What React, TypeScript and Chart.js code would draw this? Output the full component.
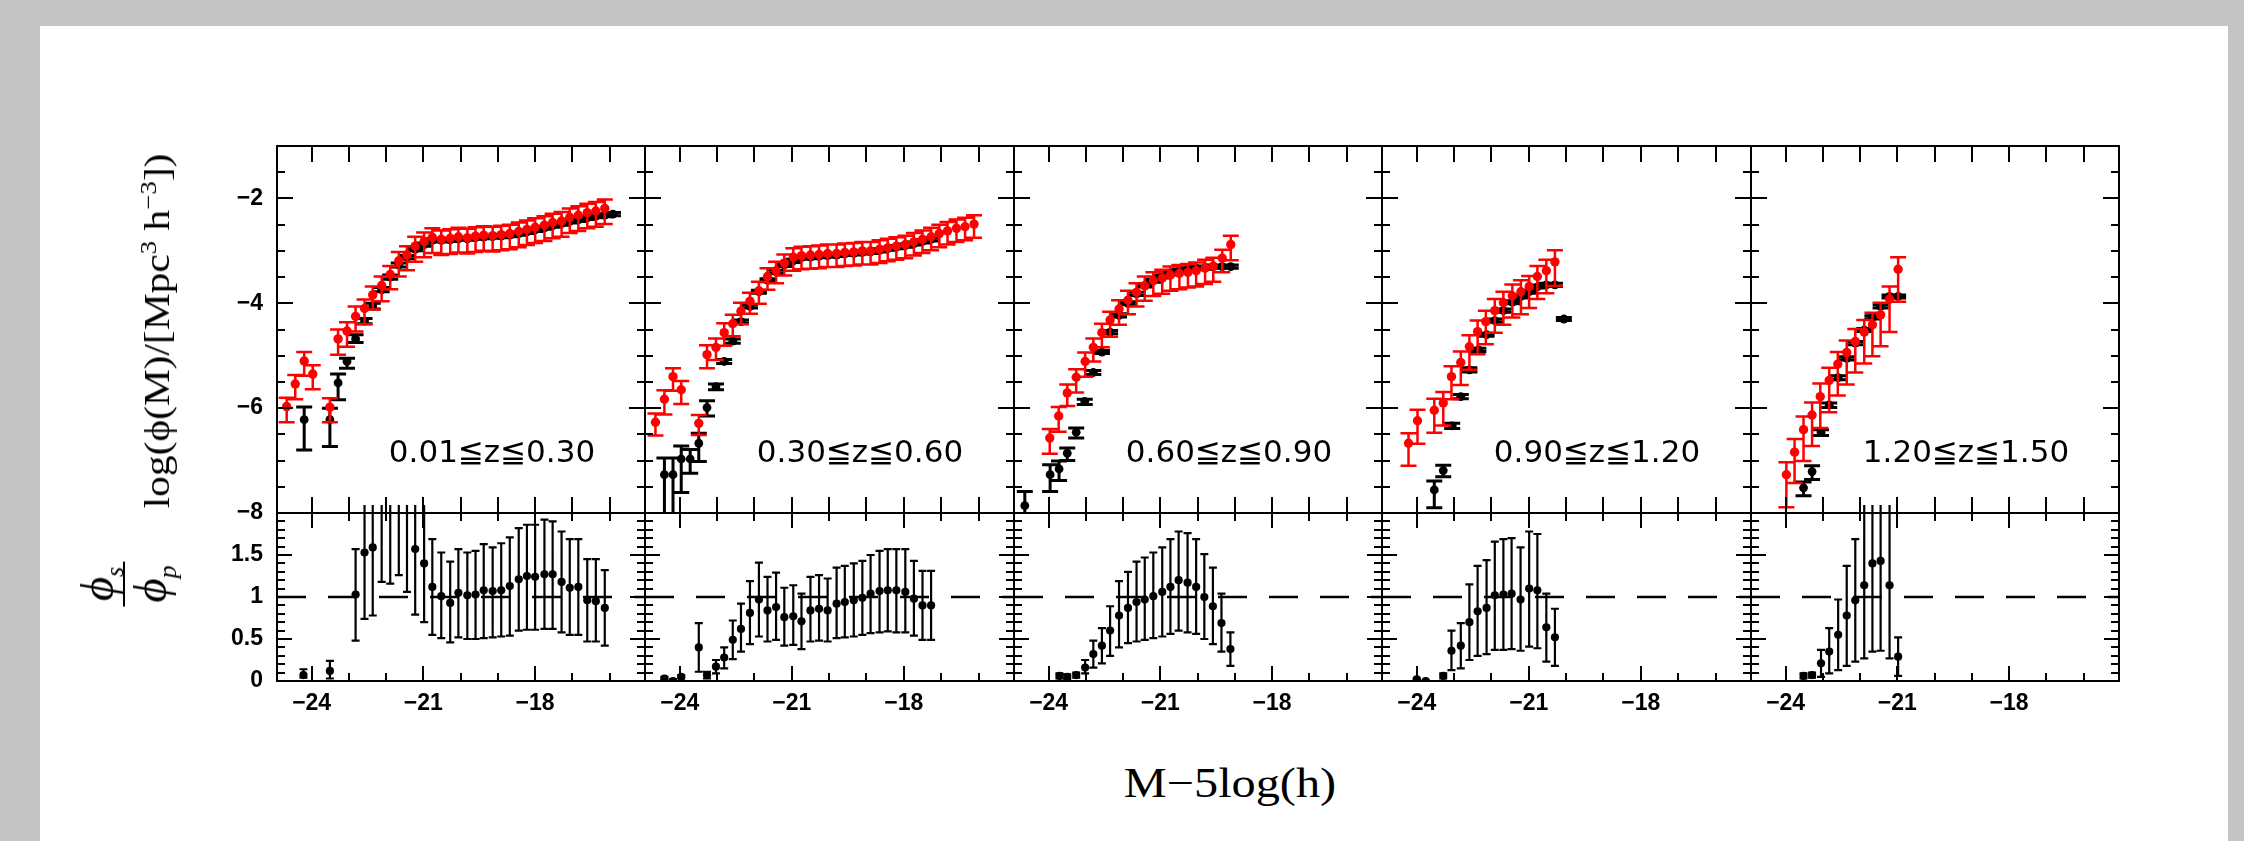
import { useEffect, useRef } from 'react';
import { Chart, registerables } from 'chart.js';

Chart.register(...registerables);

// ---------------- axis ranges & tick values ----------------
const X_MIN = -24.93;
const X_MAX = -15.05;
const YTOP_MIN = -8;
const YTOP_MAX = -1;
const YBOT_MIN = 0;
const YBOT_MAX = 2;
const X_TICK_LABELS = [-24, -21, -18];
const X_TICKS_ALL = [-24, -23, -22, -21, -20, -19, -18, -17, -16];
const X_TICKS_MINOR = [-23, -22, -20, -19, -17, -16];
const YTOP_TICK_LABELS = [-8, -6, -4, -2];
const YTOP_MINOR = [-7.5, -7, -6.5, -5.5, -5, -4.5, -3.5, -3, -2.5, -1.5];
const YBOT_TICK_LABELS = [0, 0.5, 1, 1.5];
const YBOT_MAJOR = [0.5, 1, 1.5];
const YBOT_MINOR = [0.1, 0.2, 0.3, 0.4, 0.6, 0.7, 0.8, 0.9, 1.1, 1.2, 1.3, 1.4, 1.6, 1.7, 1.8, 1.9];
const RATIO_REF = 1;
const Z_LABELS = ['0.01≦z≦0.30', '0.30≦z≦0.60', '0.60≦z≦0.90', '0.90≦z≦1.20', '1.20≦z≦1.50'];

// ---------------- panel 1 ----------------
const RED1_X = [-24.67,-24.44,-24.20,-23.97,-23.51,-23.29,-23.05,-22.82,-22.58,-22.36,-22.12,-21.89,-21.66,-21.44,-21.22,-20.98,-20.76,-20.52,-20.28,-20.06,-19.82,-19.60,-19.38,-19.14,-18.91,-18.68,-18.44,-18.22,-18.00,-17.75,-17.53,-17.29,-17.07,-16.84,-16.60,-16.37,-16.13];
const RED1_Y = [-5.97,-5.54,-5.10,-5.35,-5.98,-4.68,-4.53,-4.25,-4.10,-3.84,-3.66,-3.45,-3.19,-3.08,-2.91,-2.82,-2.74,-2.78,-2.76,-2.73,-2.75,-2.72,-2.70,-2.71,-2.69,-2.67,-2.63,-2.59,-2.55,-2.51,-2.46,-2.43,-2.36,-2.32,-2.27,-2.24,-2.19];
const RED1_UP = [0.17,0.17,0.17,0.17,0.17,0.18,0.17,0.19,0.17,0.16,0.17,0.16,0.17,0.17,0.18,0.17,0.17,0.17,0.17,0.17,0.17,0.17,0.17,0.17,0.17,0.17,0.17,0.17,0.17,0.17,0.17,0.17,0.17,0.17,0.17,0.17,0.17];
const RED1_DN = [0.30,0.29,0.28,0.29,0.29,0.30,0.30,0.29,0.30,0.28,0.30,0.28,0.30,0.29,0.30,0.30,0.30,0.30,0.30,0.30,0.30,0.30,0.30,0.30,0.30,0.30,0.30,0.30,0.30,0.30,0.30,0.30,0.30,0.30,0.30,0.30,0.30];
const BLK1_X = [-24.20,-23.51,-23.29,-23.05,-22.82,-22.58,-22.36,-22.12,-21.89,-21.66,-21.44,-21.22,-20.98,-20.76,-20.52,-20.28,-20.06,-19.82,-19.60,-19.38,-19.14,-18.91,-18.68,-18.44,-18.22,-18.00,-17.75,-17.53,-17.29,-17.07,-16.84,-16.60,-16.37,-16.13,-15.91];
const BLK1_Y = [-6.22,-6.22,-5.52,-5.11,-4.68,-4.34,-4.05,-3.74,-3.50,-3.27,-3.12,-2.97,-2.88,-2.80,-2.80,-2.79,-2.77,-2.77,-2.75,-2.74,-2.73,-2.72,-2.70,-2.67,-2.64,-2.60,-2.56,-2.52,-2.48,-2.44,-2.41,-2.37,-2.34,-2.32,-2.30];
const BLK1_UP = [0.24,0.22,0.17,0.06,0.08,0.05,0.05,0.04,0.04,0.04,0.03,0.03,0.03,0.03,0.03,0.03,0.03,0.03,0.03,0.03,0.03,0.03,0.03,0.03,0.03,0.03,0.03,0.03,0.03,0.03,0.03,0.03,0.03,0.03,0.03];
const BLK1_DN = [0.58,0.51,0.32,0.13,0.07,0.05,0.06,0.04,0.04,0.04,0.03,0.03,0.03,0.03,0.03,0.03,0.03,0.03,0.03,0.03,0.03,0.03,0.03,0.03,0.03,0.03,0.03,0.03,0.03,0.03,0.03,0.03,0.03,0.03,0.03];
const RAT1_X = [-24.22,-23.51,-22.82,-22.58,-22.36,-22.12,-21.89,-21.66,-21.44,-21.22,-20.98,-20.76,-20.52,-20.28,-20.06,-19.82,-19.60,-19.38,-19.14,-18.91,-18.68,-18.44,-18.22,-18.00,-17.75,-17.53,-17.29,-17.07,-16.84,-16.60,-16.37,-16.13];
const RAT1_Y = [0.07,0.12,1.03,1.53,1.59,2.30,2.30,2.30,2.30,1.57,1.40,1.12,1.01,0.93,1.05,1.02,1.03,1.08,1.07,1.08,1.13,1.21,1.25,1.24,1.27,1.27,1.18,1.11,1.12,0.96,0.95,0.87];
const RAT1_UP = [0.07,0.12,0.54,1.00,1.00,1.00,1.00,1.00,1.00,1.00,1.00,0.57,0.52,0.49,0.52,0.51,0.52,0.55,0.52,0.56,0.58,0.61,0.61,0.62,0.65,0.63,0.60,0.58,0.57,0.49,0.50,0.45];
const RAT1_DN = [0.03,0.09,0.55,0.79,0.81,1.12,1.14,1.04,1.24,0.78,0.70,0.57,0.50,0.47,0.53,0.52,0.53,0.57,0.55,0.55,0.59,0.61,0.64,0.63,0.65,0.65,0.60,0.56,0.57,0.49,0.48,0.45];

// ---------------- panel 2 ----------------
const RED2_X = [-24.65,-24.41,-24.18,-23.96,-23.49,-23.27,-23.03,-22.81,-22.58,-22.36,-22.12,-21.88,-21.65,-21.42,-21.20,-20.96,-20.74,-20.50,-20.27,-20.04,-19.80,-19.58,-19.34,-19.11,-18.89,-18.65,-18.43,-18.20,-17.96,-17.73,-17.50,-17.27,-17.05,-16.83,-16.59,-16.36,-16.12];
const RED2_Y = [-6.27,-5.83,-5.40,-5.65,-6.29,-4.98,-4.84,-4.56,-4.39,-4.15,-3.96,-3.76,-3.49,-3.38,-3.23,-3.12,-3.09,-3.08,-3.07,-3.05,-3.05,-3.03,-3.02,-3.00,-3.00,-2.97,-2.94,-2.91,-2.88,-2.83,-2.78,-2.73,-2.67,-2.62,-2.57,-2.54,-2.49];
const RED2_UP = [0.17,0.17,0.16,0.17,0.16,0.18,0.17,0.18,0.17,0.16,0.16,0.17,0.16,0.17,0.16,0.17,0.17,0.17,0.17,0.17,0.17,0.17,0.17,0.17,0.17,0.17,0.17,0.17,0.17,0.17,0.17,0.17,0.17,0.17,0.17,0.17,0.17];
const RED2_DN = [0.25,0.29,0.27,0.27,0.22,0.26,0.24,0.25,0.24,0.25,0.24,0.25,0.25,0.24,0.24,0.26,0.26,0.26,0.26,0.26,0.26,0.26,0.26,0.26,0.26,0.26,0.26,0.26,0.26,0.26,0.26,0.26,0.26,0.26,0.26,0.26,0.26];
const BLK2_X = [-24.41,-24.18,-23.96,-23.72,-23.49,-23.27,-23.03,-22.81,-22.58,-22.36,-22.12,-21.88,-21.65,-21.42,-21.20,-20.96,-20.74,-20.50,-20.27,-20.04,-19.80,-19.58,-19.34,-19.11,-18.89,-18.65,-18.43,-18.20,-17.96,-17.73,-17.50,-17.27];
const BLK2_Y = [-7.27,-7.27,-6.97,-6.97,-6.67,-5.99,-5.59,-5.11,-4.72,-4.35,-4.06,-3.78,-3.56,-3.40,-3.27,-3.19,-3.13,-3.12,-3.10,-3.09,-3.08,-3.06,-3.05,-3.03,-3.02,-2.99,-2.96,-2.93,-2.90,-2.86,-2.82,-2.78];
const BLK2_UP = [0.32,0.32,0.25,0.18,0.19,0.13,0.05,0.04,0.04,0.03,0.03,0.03,0.03,0.03,0.03,0.03,0.03,0.03,0.03,0.03,0.03,0.03,0.03,0.03,0.03,0.03,0.03,0.03,0.03,0.03,0.03,0.03];
const BLK2_DN = [1.00,1.00,0.64,0.27,0.35,0.16,0.06,0.04,0.04,0.03,0.03,0.03,0.03,0.03,0.03,0.03,0.03,0.03,0.03,0.03,0.03,0.03,0.03,0.03,0.03,0.03,0.03,0.03,0.03,0.03,0.03,0.03];
const RAT2_X = [-24.41,-24.18,-23.96,-23.49,-23.27,-23.03,-22.81,-22.58,-22.36,-22.12,-21.88,-21.65,-21.42,-21.20,-20.96,-20.74,-20.50,-20.27,-20.04,-19.80,-19.58,-19.34,-19.11,-18.89,-18.65,-18.43,-18.20,-17.96,-17.73,-17.50,-17.27];
const RAT2_Y = [0.03,0.00,0.05,0.40,0.07,0.17,0.28,0.49,0.62,0.81,0.97,0.84,0.88,0.76,0.77,0.71,0.84,0.86,0.84,0.92,0.94,0.96,0.99,1.04,1.07,1.08,1.08,1.06,0.98,0.90,0.90];
const RAT2_UP = [0.02,0.02,0.02,0.29,0.04,0.08,0.12,0.23,0.30,0.38,0.44,0.40,0.41,0.35,0.37,0.33,0.40,0.40,0.38,0.43,0.43,0.44,0.44,0.46,0.48,0.49,0.49,0.51,0.45,0.41,0.41];
const RAT2_DN = [0.02,0.00,0.02,0.29,0.04,0.08,0.13,0.23,0.27,0.37,0.44,0.37,0.39,0.34,0.34,0.33,0.37,0.38,0.37,0.41,0.42,0.43,0.44,0.47,0.49,0.49,0.50,0.48,0.44,0.41,0.41];

// ---------------- panel 3 ----------------
const RED3_X = [-23.97,-23.73,-23.50,-23.26,-23.02,-22.80,-22.57,-22.35,-22.11,-21.87,-21.64,-21.42,-21.19,-20.95,-20.73,-20.49,-20.26,-20.04,-19.80,-19.58,-19.34,-19.11];
const RED3_Y = [-6.57,-6.15,-5.71,-5.41,-5.11,-4.84,-4.56,-4.32,-4.11,-3.94,-3.79,-3.67,-3.57,-3.52,-3.46,-3.43,-3.41,-3.38,-3.33,-3.29,-3.14,-2.88];
const RED3_UP = [0.17,0.17,0.16,0.15,0.17,0.17,0.17,0.16,0.17,0.18,0.17,0.18,0.16,0.16,0.16,0.16,0.16,0.16,0.16,0.16,0.16,0.17];
const RED3_DN = [0.30,0.30,0.25,0.29,0.29,0.27,0.28,0.32,0.30,0.27,0.27,0.28,0.29,0.30,0.30,0.30,0.29,0.30,0.30,0.30,0.27,0.30];
const BLK3_X = [-24.64,-23.96,-23.72,-23.50,-23.26,-23.03,-22.80,-22.57,-22.35,-22.11,-21.87,-21.64,-21.42,-21.19,-20.95,-20.73,-20.49,-20.26,-20.04,-19.80,-19.58,-19.34,-19.11];
const BLK3_Y = [-7.86,-7.27,-7.16,-6.86,-6.46,-5.87,-5.32,-4.93,-4.55,-4.23,-4.00,-3.82,-3.66,-3.57,-3.49,-3.43,-3.38,-3.35,-3.33,-3.32,-3.30,-3.30,-3.30];
const BLK3_UP = [0.27,0.19,0.15,0.10,0.08,0.04,0.04,0.03,0.03,0.03,0.03,0.03,0.03,0.03,0.03,0.03,0.03,0.03,0.03,0.03,0.03,0.03,0.03];
const BLK3_DN = [0.60,0.32,0.22,0.14,0.11,0.06,0.04,0.03,0.03,0.03,0.03,0.03,0.03,0.03,0.03,0.03,0.03,0.03,0.03,0.03,0.03,0.03,0.03];
const RAT3_X = [-23.71,-23.50,-23.26,-23.02,-22.80,-22.57,-22.35,-22.11,-21.87,-21.64,-21.42,-21.19,-20.95,-20.73,-20.51,-20.27,-20.04,-19.82,-19.59,-19.36,-19.12];
const RAT3_Y = [0.06,0.05,0.07,0.16,0.32,0.42,0.60,0.78,0.87,0.94,0.97,1.01,1.06,1.12,1.20,1.17,1.12,1.00,0.89,0.69,0.38];
const RAT3_UP = [0.03,0.03,0.03,0.09,0.16,0.21,0.29,0.41,0.43,0.48,0.50,0.52,0.53,0.57,0.58,0.59,0.57,0.51,0.46,0.35,0.20];
const RAT3_DN = [0.03,0.03,0.03,0.07,0.16,0.21,0.30,0.38,0.42,0.47,0.48,0.50,0.53,0.56,0.60,0.59,0.56,0.50,0.45,0.34,0.20];

// ---------------- panel 4 ----------------
const RED4_X = [-24.22,-23.98,-23.53,-23.29,-23.07,-22.82,-22.59,-22.37,-22.15,-21.91,-21.68,-21.44,-21.21,-20.99,-20.77,-20.53,-20.30];
const RED4_Y = [-6.67,-6.24,-6.04,-5.90,-5.40,-5.13,-4.83,-4.54,-4.35,-4.14,-3.99,-3.86,-3.78,-3.68,-3.49,-3.38,-3.21];
const RED4_UP = [0.19,0.21,0.22,0.21,0.20,0.21,0.22,0.21,0.21,0.22,0.21,0.22,0.22,0.20,0.20,0.21,0.22];
const RED4_DN = [0.43,0.44,0.43,0.43,0.43,0.43,0.44,0.43,0.43,0.42,0.42,0.41,0.43,0.41,0.43,0.43,0.46];
const BLK4_X = [-23.53,-23.29,-23.05,-22.82,-22.59,-22.35,-22.13,-21.91,-21.68,-21.44,-21.21,-20.99,-20.75,-20.53,-20.30,-20.06];
const BLK4_Y = [-7.56,-7.19,-6.34,-5.78,-5.27,-4.89,-4.60,-4.33,-4.14,-3.98,-3.87,-3.78,-3.68,-3.65,-3.65,-4.30];
const BLK4_UP = [0.17,0.10,0.05,0.04,0.04,0.03,0.03,0.03,0.03,0.03,0.03,0.03,0.03,0.03,0.03,0.03];
const BLK4_DN = [0.34,0.12,0.05,0.04,0.04,0.03,0.03,0.03,0.03,0.03,0.03,0.03,0.03,0.03,0.03,0.03];
const RAT4_X = [-24.00,-23.76,-23.29,-23.07,-22.82,-22.59,-22.37,-22.13,-21.91,-21.68,-21.46,-21.22,-20.99,-20.77,-20.53,-20.30];
const RAT4_Y = [0.02,0.00,0.06,0.36,0.42,0.70,0.83,0.87,1.02,1.03,1.04,0.97,1.10,1.08,0.64,0.52];
const RAT4_UP = [0.01,0.01,0.03,0.24,0.27,0.45,0.54,0.57,0.64,0.66,0.66,0.62,0.68,0.67,0.40,0.34];
const RAT4_DN = [0.02,0.00,0.03,0.23,0.27,0.45,0.53,0.55,0.65,0.66,0.66,0.61,0.69,0.69,0.41,0.34];

// ---------------- panel 5 ----------------
const RED5_X = [-23.98,-23.76,-23.52,-23.29,-23.07,-22.83,-22.60,-22.36,-22.13,-21.89,-21.67,-21.45,-21.21,-20.98];
const RED5_Y = [-7.27,-6.84,-6.41,-6.13,-5.78,-5.47,-5.16,-4.94,-4.73,-4.55,-4.41,-4.22,-3.92,-3.35];
const RED5_UP = [0.24,0.25,0.25,0.24,0.25,0.24,0.23,0.23,0.24,0.23,0.23,0.23,0.24,0.23];
const RED5_DN = [0.62,0.59,0.60,0.59,0.60,0.61,0.60,0.61,0.59,0.60,0.60,0.60,0.63,0.62];
const BLK5_X = [-23.52,-23.29,-23.05,-22.83,-22.59,-22.36,-22.13,-21.89,-21.67,-21.45,-21.21,-20.98];
const BLK5_Y = [-7.52,-7.21,-6.46,-5.94,-5.42,-5.05,-4.76,-4.51,-4.27,-4.06,-3.87,-3.87];
const BLK5_UP = [0.11,0.11,0.05,0.04,0.04,0.03,0.03,0.03,0.03,0.03,0.03,0.03];
const BLK5_DN = [0.15,0.15,0.06,0.05,0.04,0.03,0.03,0.03,0.03,0.03,0.03,0.03];
const RAT5_X = [-23.52,-23.29,-23.05,-22.83,-22.59,-22.36,-22.13,-21.89,-21.67,-21.45,-21.21,-20.98];
const RAT5_Y = [0.06,0.07,0.21,0.35,0.55,0.78,0.96,1.14,1.40,1.43,1.14,0.29];
const RAT5_UP = [0.03,0.03,0.16,0.28,0.42,0.59,0.73,1.20,1.20,1.20,1.20,0.23];
const RAT5_DN = [0.03,0.03,0.16,0.26,0.42,0.60,0.73,0.87,1.05,1.07,0.87,0.23];

type S = { x: number[]; y: number[]; up: number[]; dn: number[] };
const PANELS: { red: S; blk: S; rat: S }[] = [
  { red: { x: RED1_X, y: RED1_Y, up: RED1_UP, dn: RED1_DN }, blk: { x: BLK1_X, y: BLK1_Y, up: BLK1_UP, dn: BLK1_DN }, rat: { x: RAT1_X, y: RAT1_Y, up: RAT1_UP, dn: RAT1_DN } },
  { red: { x: RED2_X, y: RED2_Y, up: RED2_UP, dn: RED2_DN }, blk: { x: BLK2_X, y: BLK2_Y, up: BLK2_UP, dn: BLK2_DN }, rat: { x: RAT2_X, y: RAT2_Y, up: RAT2_UP, dn: RAT2_DN } },
  { red: { x: RED3_X, y: RED3_Y, up: RED3_UP, dn: RED3_DN }, blk: { x: BLK3_X, y: BLK3_Y, up: BLK3_UP, dn: BLK3_DN }, rat: { x: RAT3_X, y: RAT3_Y, up: RAT3_UP, dn: RAT3_DN } },
  { red: { x: RED4_X, y: RED4_Y, up: RED4_UP, dn: RED4_DN }, blk: { x: BLK4_X, y: BLK4_Y, up: BLK4_UP, dn: BLK4_DN }, rat: { x: RAT4_X, y: RAT4_Y, up: RAT4_UP, dn: RAT4_DN } },
  { red: { x: RED5_X, y: RED5_Y, up: RED5_UP, dn: RED5_DN }, blk: { x: BLK5_X, y: BLK5_Y, up: BLK5_UP, dn: BLK5_DN }, rat: { x: RAT5_X, y: RAT5_Y, up: RAT5_UP, dn: RAT5_DN } },
];

// ---------------- layout ----------------
const PANEL_X = [277, 645, 1014, 1382, 1751, 2119];
const TOP_Y = 146;
const TOP_H = 367;
const BOT_Y = 513;
const BOT_H = 168;

const fmt = (v: number) => String(v).replace('-', '\u2212');
const TICK_FONT = { family: 'Liberation Sans', size: 23, weight: 'bold' as const };

type ErrSpec = { s: S; color: string; width: number; cap: number; clipTop: number } | null;

function errorBarPlugin(specs: ErrSpec[]) {
  return {
    id: 'errorBars',
    beforeDatasetDraw(chart: any, args: any) {
      const sp = specs[args.index];
      if (!sp) return;
      const xs = chart.scales.x, ys = chart.scales.y, a = chart.chartArea, ctx = chart.ctx;
      ctx.save();
      ctx.beginPath();
      ctx.rect(a.left, a.top - sp.clipTop, a.right - a.left, a.bottom - a.top + sp.clipTop);
      ctx.clip();
      ctx.strokeStyle = sp.color;
      ctx.lineWidth = sp.width;
      ctx.beginPath();
      sp.s.x.forEach((xv, i) => {
        const px = xs.getPixelForValue(xv);
        const hi = ys.getPixelForValue(sp.s.y[i] + sp.s.up[i]);
        const lo = ys.getPixelForValue(sp.s.y[i] - sp.s.dn[i]);
        ctx.moveTo(px, hi); ctx.lineTo(px, lo);
        ctx.moveTo(px - sp.cap, hi); ctx.lineTo(px + sp.cap, hi);
        ctx.moveTo(px - sp.cap, lo); ctx.lineTo(px + sp.cap, lo);
      });
      ctx.stroke();
      ctx.restore();
    },
  };
}

type FrameCfg = { xMaj: number[]; xMin: number[]; yMaj: number[]; yMin: number[]; maj: number; min: number };
function framePlugin(cfg: FrameCfg) {
  return {
    id: 'frameTicks',
    afterDraw(chart: any) {
      const { ctx, chartArea: a } = chart;
      const xs = chart.scales.x, ys = chart.scales.y;
      ctx.save();
      ctx.strokeStyle = '#000';
      ctx.lineWidth = 2;
      ctx.beginPath();
      const tx = (vals: number[], len: number) => vals.forEach((v) => {
        const p = Math.round(xs.getPixelForValue(v));
        ctx.moveTo(p, a.bottom); ctx.lineTo(p, a.bottom - len);
        ctx.moveTo(p, a.top); ctx.lineTo(p, a.top + len);
      });
      const ty = (vals: number[], len: number) => vals.forEach((v) => {
        const p = Math.round(ys.getPixelForValue(v));
        ctx.moveTo(a.left, p); ctx.lineTo(a.left + len, p);
        ctx.moveTo(a.right, p); ctx.lineTo(a.right - len, p);
      });
      tx(cfg.xMaj, cfg.maj); tx(cfg.xMin, cfg.min);
      ty(cfg.yMaj, cfg.maj); ty(cfg.yMin, cfg.min);
      ctx.stroke();
      ctx.strokeRect(a.left, a.top, a.right - a.left, a.bottom - a.top);
      ctx.restore();
    },
  };
}

type PanelProps = { idx: number; bottom: boolean };

function Panel({ idx, bottom }: PanelProps) {
  const ref = useRef<HTMLCanvasElement>(null);
  const left = PANEL_X[idx];
  const width = PANEL_X[idx + 1] - left;
  const top = bottom ? BOT_Y : TOP_Y;
  const height = bottom ? BOT_H : TOP_H;
  const yLab = idx === 0;
  const xLab = bottom;
  const padL = yLab ? 120 : 6;
  const padR = 6;
  const padT = 16;
  const padB = bottom ? 50 : 16;
  const cw = padL + width + padR;
  const chh = padT + height + padB;

  useEffect(() => {
    const p = PANELS[idx];
    const pts = (s: S) => s.x.map((x, i) => ({ x, y: s.y[i] }));
    let datasets: any[];
    let specs: ErrSpec[];
    if (!bottom) {
      datasets = [
        { data: pts(p.red), pointRadius: 4.7, pointBackgroundColor: '#ff0000', pointBorderWidth: 0, pointHoverRadius: 4.7 },
        { data: pts(p.blk), pointRadius: 4.4, pointBackgroundColor: '#000000', pointBorderWidth: 0, pointHoverRadius: 4.4 },
      ];
      specs = [
        { s: p.red, color: '#ff0000', width: 2.5, cap: 8, clipTop: 0 },
        { s: p.blk, color: '#000000', width: 3, cap: 8, clipTop: 0 },
      ];
    } else {
      datasets = [
        { data: pts(p.rat), pointRadius: 4.1, pointBackgroundColor: '#000000', pointBorderWidth: 0, pointHoverRadius: 4.1 },
        { data: [{ x: X_MIN, y: RATIO_REF }, { x: X_MAX, y: RATIO_REF }], showLine: true, borderColor: '#000000', borderWidth: 2.5, borderDash: [29, 22], pointRadius: 0, fill: false },
      ];
      specs = [{ s: p.rat, color: '#000000', width: 2.2, cap: 4, clipTop: 8 }, null];
    }
    const frame = bottom
      ? framePlugin({ xMaj: X_TICK_LABELS, xMin: X_TICKS_MINOR, yMaj: YBOT_MAJOR, yMin: YBOT_MINOR, maj: 15, min: 8 })
      : framePlugin({ xMaj: X_TICKS_ALL, xMin: [], yMaj: YTOP_TICK_LABELS, yMin: YTOP_MINOR, maj: 16, min: 8 });

    const chart = new Chart(ref.current as HTMLCanvasElement, {
      type: 'scatter',
      data: { datasets },
      options: {
        animation: false,
        responsive: false,
        maintainAspectRatio: false,
        events: [],
        layout: { padding: { left: yLab ? 0 : padL, right: padR, top: padT, bottom: xLab ? 0 : padB } },
        plugins: { legend: { display: false }, tooltip: { enabled: false } },
        scales: {
          x: {
            type: 'linear', min: X_MIN, max: X_MAX, display: xLab,
            grid: { display: false, drawTicks: false }, border: { display: false },
            ticks: { font: TICK_FONT, color: '#000', padding: 9, autoSkip: false, maxRotation: 0, callback: (v: any) => fmt(Number(v)) },
            afterBuildTicks: (s: any) => { s.ticks = X_TICK_LABELS.map((v) => ({ value: v })); },
            afterFit: (s: any) => {
              s.paddingLeft = 0; s.paddingRight = 0; s.paddingTop = 0; s.paddingBottom = 0;
              if (xLab) s.height = padB;
            },
          },
          y: {
            type: 'linear', min: bottom ? YBOT_MIN : YTOP_MIN, max: bottom ? YBOT_MAX : YTOP_MAX, display: yLab,
            grid: { display: false, drawTicks: false }, border: { display: false },
            ticks: { font: TICK_FONT, color: '#000', padding: 14, autoSkip: false, callback: (v: any) => fmt(Number(v)) },
            afterBuildTicks: (s: any) => { s.ticks = (bottom ? YBOT_TICK_LABELS : YTOP_TICK_LABELS).map((v) => ({ value: v })); },
            afterFit: (s: any) => {
              s.paddingLeft = 0; s.paddingRight = 0; s.paddingTop = 0; s.paddingBottom = 0;
              if (yLab) s.width = padL;
            },
          },
        },
      } as any,
      plugins: [errorBarPlugin(specs), frame],
    });
    return () => chart.destroy();
  }, [idx, bottom]);

  return (
    <canvas
      ref={ref}
      width={cw}
      height={chh}
      style={{ position: 'absolute', left: left - padL, top: top - padT, width: cw, height: chh }}
    />
  );
}

const supStyle = { fontSize: '0.65em', verticalAlign: 'super', lineHeight: 0 } as const;
const subStyle = { fontSize: '0.55em', lineHeight: 0 } as const;

export default function App() {
  const idxs = [0, 1, 2, 3, 4];
  return (
    <div style={{ position: 'absolute', left: 0, top: 0, width: 2244, height: 841, background: '#c4c4c4', overflow: 'hidden' }}>
      <div style={{ position: 'absolute', left: 40, top: 26, width: 2188, height: 815, background: '#ffffff' }} />
      {idxs.map((i) => <Panel key={'t' + i} idx={i} bottom={false} />)}
      {idxs.map((i) => <Panel key={'b' + i} idx={i} bottom={true} />)}
      {idxs.map((i) => (
        <div key={'z' + i} style={{ position: 'absolute', left: PANEL_X[i] + 215, top: 451, transform: 'translate(-50%,-50%)', fontFamily: 'DejaVu Sans', fontSize: 31, whiteSpace: 'nowrap', color: '#000', lineHeight: 1.1 }}>
          {Z_LABELS[i]}
        </div>
      ))}
      <div style={{ position: 'absolute', left: 157, top: 331, transform: 'translate(-50%,-50%) rotate(-90deg) scaleX(1.15)', fontFamily: 'Liberation Serif', fontSize: 36, whiteSpace: 'nowrap', color: '#000', lineHeight: 1 }}>
        log(ϕ(M)/[Mpc<sup style={supStyle}>3</sup> h<sup style={supStyle}>−3</sup>])
      </div>
      <div style={{ position: 'absolute', left: 124, top: 584, transform: 'translate(-50%,-50%) rotate(-90deg)', fontFamily: 'Liberation Serif', fontSize: 47, fontStyle: 'italic', color: '#000', lineHeight: 1, display: 'flex', flexDirection: 'column', alignItems: 'center' }}>
        <div style={{ whiteSpace: 'nowrap', padding: '0 4px' }}>ϕ<sub style={subStyle}>s</sub></div>
        <div style={{ alignSelf: 'stretch', borderTop: '2px solid #000', margin: '2px 0' }} />
        <div style={{ whiteSpace: 'nowrap', padding: '0 4px' }}>ϕ<sub style={subStyle}>p</sub></div>
      </div>
      <div style={{ position: 'absolute', left: 1230, top: 783, transform: 'translate(-50%,-50%) scaleX(1.15)', fontFamily: 'Liberation Serif', fontSize: 42, whiteSpace: 'nowrap', color: '#000', lineHeight: 1 }}>
        M−5log(h)
      </div>
    </div>
  );
}
